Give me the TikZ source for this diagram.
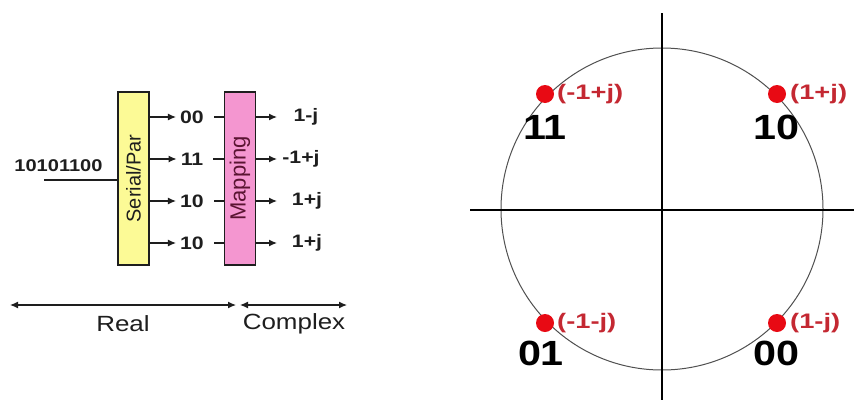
\documentclass[tikz,border=0pt]{standalone}
\usepackage{fontspec}
\setmainfont{Liberation Sans}
\newfontfamily\wsans[FakeStretch=1.18]{Liberation Sans}
\newfontfamily\wrsans[FakeStretch=1.3]{Liberation Sans}
\usetikzlibrary{arrows.meta}
\definecolor{boxyellow}{RGB}{252,250,150}
\definecolor{boxpink}{RGB}{244,150,208}
\definecolor{mapink}{RGB}{90,20,50}
\definecolor{dotred}{RGB}{232,10,20}
\definecolor{labred}{RGB}{196,40,50}
\definecolor{circgray}{RGB}{80,80,80}
\definecolor{txtgray}{RGB}{30,30,30}
\begin{document}
\begin{tikzpicture}[x=1pt,y=-1pt,
  blockbox/.style={draw=txtgray,line width=1.2pt,minimum width=31pt,minimum height=173pt,inner sep=0pt},
  smalllab/.style={font=\wsans\fontsize{18}{18}\selectfont\bfseries,text=txtgray,inner sep=0pt},
  redlab/.style={font=\wrsans\fontsize{21}{21}\selectfont\bfseries,text=labred,inner sep=0pt,anchor=west},
  biglab/.style={font=\wsans\fontsize{35}{35}\selectfont\bfseries,text=black,inner sep=0pt},
  bottomlab/.style={font=\wsans\fontsize{22}{22}\selectfont,text=txtgray,inner sep=0pt},
  conn/.style={draw=txtgray,line width=1.2pt},
  arr/.style={conn,-{Latex[length=8pt,width=7pt]}},
  darr/.style={conn,{Latex[length=8pt,width=7pt]}-{Latex[length=8pt,width=7pt]}},
  axis/.style={draw=black,line width=2pt},
  dot/.style={circle,fill=dotred,minimum size=18pt,inner sep=0pt}]
\useasboundingbox (0,0) rectangle (854,402);

% ---------- left: serial/parallel and mapping ----------
\node[blockbox,fill=boxyellow] (sp) at (133.5,178.5) {};
\node[rotate=90,font=\fontsize{20}{20}\selectfont,text=txtgray] (sptxt) at (sp.center) {Serial/Par};
\node[blockbox,fill=boxpink] (mp) at (240,178.5) {};
\node[rotate=90,font=\fontsize{22}{22}\selectfont,text=mapink] (mptxt) at (mp.center) {Mapping};

\node[smalllab,font=\wsans\fontsize{17}{17}\selectfont\bfseries] (in) at (58.5,166) {10101100};
\coordinate (inl) at (44,180);
\draw[conn] (inl) -- (sp.west |- inl);

% row labels between the boxes
\node[smalllab] (a1) at (192,117) {00};
\node[smalllab] (a2) at (192,159) {11};
\node[smalllab] (a3) at (192,201) {10};
\node[smalllab] (a4) at (192,243) {10};
\foreach \i in {1,...,4}{
  \draw[arr] (sp.east |- a\i.west) -- ([xshift=-4pt]a\i.west);
  \draw[conn] ([xshift=10pt]a\i.east) -- (mp.west |- a\i.east);
}
% mapped outputs
\node[smalllab] (b1) at (306,117) {1-j};
\node[smalllab] (b2) at (301,159) {-1+j};
\node[smalllab] (b3) at (307,201) {1+j};
\node[smalllab] (b4) at (307,243) {1+j};
\foreach \i in {1,...,4}{
  \coordinate (t\i) at (277,0 |- b\i.center);
  \draw[arr] (mp.east |- t\i) -- (t\i);
}

% Real / Complex span arrows
\coordinate (r0) at (10,305);
\coordinate (r1) at (236,305);
\coordinate (c0) at (240,305);
\coordinate (c1) at (347,305);
\draw[darr] (r0) -- (r1);
\draw[darr] (c0) -- (c1);
\node[bottomlab] (real) at (123,324) {Real};
\node[bottomlab] (cplx) at (294,324) {Complex};

% ---------- right: constellation ----------
\coordinate (o) at (662,209);
\coordinate (vt) at (662,13);
\coordinate (vb) at (662,400);
\coordinate (hl) at (470,210);
\coordinate (hr) at (854,210);
\draw[circgray,line width=1pt] (o) circle[radius=161];
\draw[axis] (vt) -- (vb);
\draw[axis] (hl) -- (hr);

\node[dot] (d11) at (545,94) {};
\node[dot] (d10) at (777,94) {};
\node[dot] (d01) at (545,323) {};
\node[dot] (d00) at (777,323) {};

\node[redlab] (l11) at (557,94) {(-1+j)};
\node[redlab] (l10) at (790,94) {(1+j)};
\node[redlab] (l01) at (557,323) {(-1-j)};
\node[redlab] (l00) at (790,323) {(1-j)};

\node[biglab] (n11) at (545,127) {11};
\node[biglab] (n10) at (776,127) {10};
\node[biglab] (n01) at (541,353) {01};
\node[biglab] (n00) at (776,353) {00};
\end{tikzpicture}
\end{document}
